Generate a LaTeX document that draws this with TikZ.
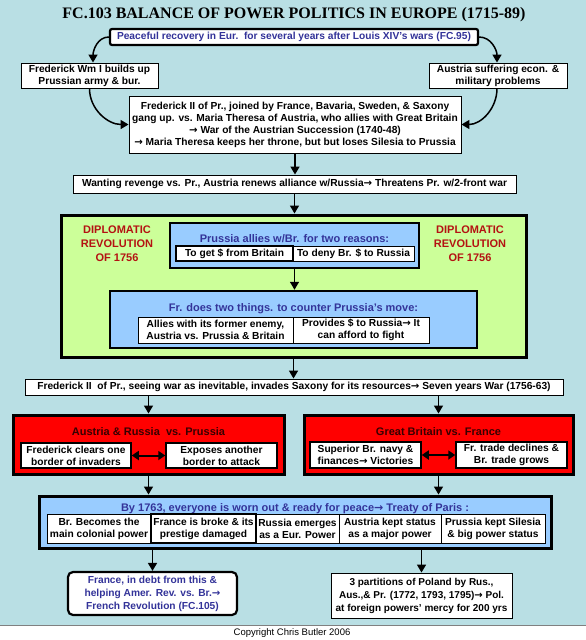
\documentclass[tikz,border=0pt]{standalone}
\usepackage{fontspec}
\setmainfont{Liberation Sans}
\newfontfamily\titlefont{Liberation Serif}
\newfontfamily\arrowfont{DejaVu Sans}
\newcommand{\rarr}{{\arrowfont\bfseries →}}
\usetikzlibrary{arrows.meta}
\definecolor{bgteal}{RGB}{185,223,228}
\definecolor{lgreen}{RGB}{204,255,153}
\definecolor{lblue}{RGB}{153,204,255}
\definecolor{redbox}{RGB}{255,0,0}
\definecolor{tblue}{RGB}{51,51,153}
\definecolor{dipred}{RGB}{180,18,18}
\definecolor{darkred}{RGB}{55,0,0}
\begin{document}
\begin{tikzpicture}[x=1pt,y=-1pt,
  box/.style={draw=black, fill=white, line width=0.9pt, inner sep=0pt, align=center,
    font=\fontsize{10.2}{12}\selectfont\bfseries},
  panel/.style={draw=black, line width=2.5pt, inner sep=0pt},
  head/.style={anchor=base, inner sep=0pt, font=\fontsize{11}{13}\selectfont\bfseries},
  arr/.style={line width=1.5pt, -{Triangle[length=8pt,width=9pt]}},
  darr/.style={line width=2pt, {Triangle[length=7pt,width=9pt]}-{Triangle[length=7pt,width=9pt]}}
]
\useasboundingbox (0,0) rectangle (586,640);
\fill[bgteal] (0,0) rectangle (586,625);
\fill[white] (0,625) rectangle (586,640);
\draw[gray, line width=0.6pt] (0,625) -- (586,625);

\node[font=\titlefont\bfseries\fontsize{16}{18}\selectfont, inner sep=0pt] (title) at (294,15)
  {FC.103 BALANCE OF POWER POLITICS IN EUROPE (1715-89)};

\node[box, rounded corners=2pt, line width=2.2pt, text=tblue, minimum width=368pt, minimum height=16pt] (top) at (294,37)
  {Peaceful recovery in Eur.\ \ for several years after Louis XIV’s wars (FC.95)};
\node[box, minimum width=137pt, minimum height=25pt] (fwm) at (89.5,75.5)
  {Frederick Wm I builds up\\Prussian army \& bur.};
\node[box, minimum width=138pt, minimum height=25pt] (aus) at (498,75.5)
  {Austria suffering econ. \&\\military problems};
\node[box, minimum width=332pt, minimum height=57pt] (fred2) at (295,124.5)
  {Frederick II of Pr., joined by France, Bavaria, Sweden, \& Saxony\\gang up. vs. Maria Theresa of Austria, who allies with Great Britain\\\rarr\ War of the Austrian Succession (1740-48)\\\rarr\ Maria Theresa keeps her throne, but but loses Silesia to Prussia};
\node[box, minimum width=443pt, minimum height=18pt] (want) at (294.5,184)
  {Wanting revenge vs. Pr., Austria renews alliance w/Russia\rarr\ Threatens Pr. w/2-front war};

% Diplomatic revolution panel
\node[panel, line width=3pt, fill=lgreen, minimum width=465pt, minimum height=142pt] (green) at (293.5,286) {};
\node[align=center, text=dipred, inner sep=0pt, font=\fontsize{11}{14}\selectfont\bfseries] (dipL) at (117,244)
  {DIPLOMATIC\\REVOLUTION\\OF 1756};
\node[align=center, text=dipred, inner sep=0pt, font=\fontsize{11}{14}\selectfont\bfseries] (dipR) at (470,244)
  {DIPLOMATIC\\REVOLUTION\\OF 1756};

\node[panel, fill=lblue, minimum width=249pt, minimum height=45pt] (prus) at (294.5,245.5) {};
\node[head, text=tblue] (prusT) at (294.5,242) {Prussia allies w/Br. for two reasons:};
\node[box, minimum width=121pt, minimum height=15pt] (p2) at (353.5,253.5) {To deny Br. \$ to Russia};
\node[box, line width=1.6pt, minimum width=117pt, minimum height=15pt] (p1) at (234.5,253.5) {To get \$ from Britain};

\node[panel, fill=lblue, minimum width=367pt, minimum height=57pt] (fr) at (293.5,319.5) {};
\node[head, text=tblue] (frT) at (293.5,311) {Fr. does two things. to counter Prussia’s move:};
\node[box, minimum width=155pt, minimum height=26pt] (f1) at (215.5,330)
  {Allies with its former enemy,\\Austria vs. Prussia \& Britain};
\node[box, minimum width=136pt, minimum height=26pt] (f2) at (361,330)
  {Provides \$ to Russia\rarr\ It\\can afford to fight};

\node[box, minimum width=538pt, minimum height=16pt] (seeing) at (294,387)
  {Frederick II\ \ of Pr., seeing war as inevitable, invades Saxony for its resources\rarr\ Seven years War (1756-63)};

% Seven Years War panels
\node[panel, line width=3pt, fill=redbox, minimum width=271pt, minimum height=59pt] (redL) at (148.5,444.5) {};
\node[head, text=darkred] (redLT) at (148.5,435) {Austria \& Russia\ \ vs. Prussia};
\node[box, line width=1.5pt, minimum width=110pt, minimum height=25pt] (rl1) at (76,455.5)
  {Frederick clears one\\border of invaders};
\node[box, line width=1.5pt, minimum width=111pt, minimum height=25pt] (rl2) at (221.5,455.5)
  {Exposes another\\border to attack};

\node[panel, line width=3pt, fill=redbox, minimum width=269pt, minimum height=59pt] (redR) at (438.5,444.5) {};
\node[head, text=darkred] (redRT) at (438.5,435) {Great Britain vs. France};
\node[box, line width=1.5pt, minimum width=111pt, minimum height=26pt] (rr1) at (365.5,455)
  {Superior Br. navy \&\\finances\rarr\ Victories};
\node[box, line width=1.5pt, minimum width=111pt, minimum height=26pt] (rr2) at (511.5,455)
  {Fr. trade declines \&\\Br. trade grows};

% Treaty of Paris
\node[panel, line width=3pt, fill=lblue, minimum width=512pt, minimum height=52pt] (treaty) at (295,522) {};
\node[head, text=tblue] (treatyT) at (295,511) {By 1763, everyone is worn out \& ready for peace\rarr\ Treaty of Paris :};
\node[box, minimum width=104pt, minimum height=29pt] (t1) at (99,528.5) {Br. Becomes the\\main colonial power};
\node[box, minimum width=83pt, minimum height=29pt] (t3) at (297.5,528.5) {Russia emerges\\as a Eur. Power};
\node[box, minimum width=102pt, minimum height=29pt] (t4) at (390,528.5) {Austria kept status\\as a major power};
\node[box, minimum width=104pt, minimum height=29pt] (t5) at (493,528.5) {Prussia kept Silesia\\\& big power status};
\node[box, line width=1.6pt, minimum width=105pt, minimum height=29pt] (t2) at (203.5,528.5) {France is broke \& its\\prestige damaged};

\node[box, rounded corners=5pt, line width=2.2pt, text=tblue, minimum width=169pt, minimum height=43pt,
  font=\fontsize{10.2}{13}\selectfont\bfseries] (france) at (152.5,593.5)
  {France, in debt from this \&\\helping Amer. Rev. vs. Br.\rarr\\French Revolution (FC.105)};
\node[box, minimum width=181pt, minimum height=45pt, font=\fontsize{10}{13}\selectfont\bfseries] (poland) at (421.5,595.5)
  {3 partitions of Poland by Rus.,\\Aus.,\& Pr. (1772, 1793, 1795)\rarr\ Pol.\\at foreign powers’ mercy for 200 yrs};

\node[inner sep=0pt, font=\fontsize{9.5}{11}\selectfont] (copy) at (292,633) {Copyright Chris Butler 2006};

% connectors
\draw[arr] (top.west) to[out=180,in=90] ([xshift=3.5pt]fwm.north);
\draw[arr] (fwm.south) to[out=-90,in=180] (fred2.west);
\draw[arr] (top.east) to[out=0,in=90] ([xshift=-1pt]aus.north);
\draw[arr] ([xshift=-1pt]aus.south) to[out=-90,in=0] (fred2.east);
\draw[arr] (fred2.south) -- (fred2.south |- want.north);
\draw[arr] (want.south) -- (want.south |- green.north);
\draw[arr] (prus.south) -- (prus.south |- fr.north);
\draw[arr] (green.south) -- (green.south |- seeing.north);
\draw[arr] (redL.north |- seeing.south) -- (redL.north);
\draw[arr] (redR.north |- seeing.south) -- (redR.north);
\draw[arr] (redL.south) -- (redL.south |- treaty.north);
\draw[arr] (redR.south) -- (redR.south |- treaty.north);
\draw[arr] (france.north |- treaty.south) -- (france.north);
\draw[arr] (poland.north |- treaty.south) -- (poland.north);
\draw[darr] (rl1.east) -- (rl2.west);
\draw[darr] (rr1.east) -- (rr2.west);
\end{tikzpicture}
\end{document}
